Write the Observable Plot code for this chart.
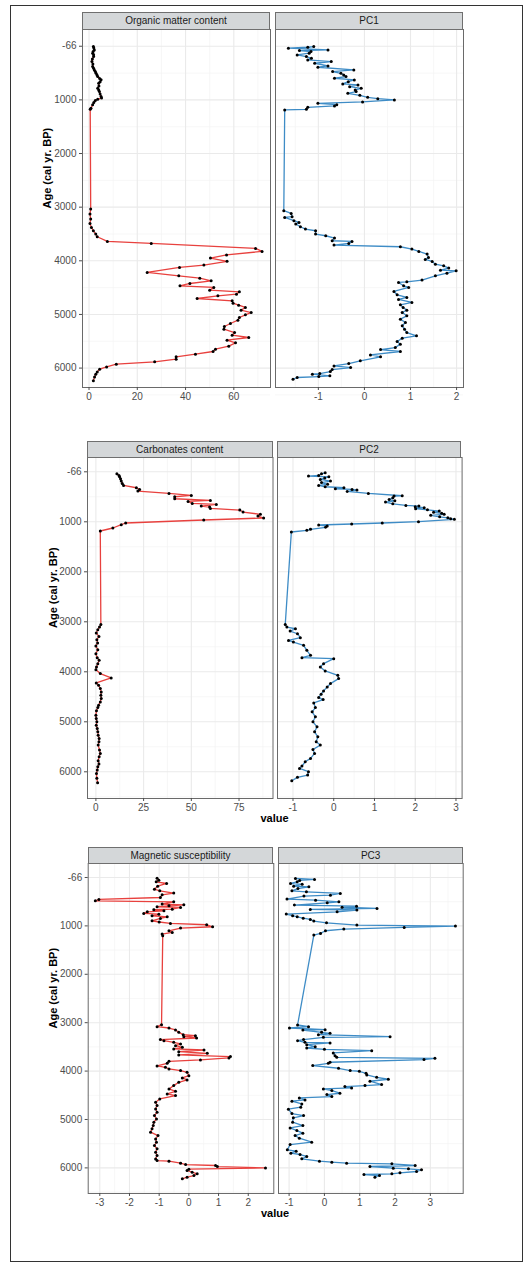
<!DOCTYPE html>
<html><head><meta charset="utf-8">
<script src="https://cdn.jsdelivr.net/npm/d3@7"></script>
<script src="https://cdn.jsdelivr.net/npm/@observablehq/plot@0.6"></script>
<style>
body{margin:0;background:#fff;font-family:"Liberation Sans",Arial,sans-serif;}
#root{position:relative;width:527px;height:1276px;overflow:hidden;}
.box{position:absolute;left:10px;top:5px;width:513px;height:1257px;border:1.5px solid #333;box-sizing:border-box;}
.strip{position:absolute;background:#D4D7D9;border:1px solid #6f6f6f;box-sizing:border-box;font-size:10px;color:#1a1a1a;text-align:center;}
.xlab{position:absolute;font-weight:bold;font-size:11px;line-height:11px;color:#000;transform:translateX(-50%);white-space:nowrap;}
</style></head><body><div id="root"><div class="box"></div></div>
<script>
// ---------------- data: [age (cal yr BP), value] ----------------
const organicMatter = [[6,1.8],[35,2.0],[68,2.2],[100,1.7],[130,1.5],[160,1.9],[193,1.9],[240,1.4],[286,1.2],[330,1.6],[379,1.5],[410,1.9],[441,2.2],[470,2.6],[503,2.9],[535,3.3],[565,3.6],[600,4.4],[627,5.0],[660,4.6],[689,4.0],[740,4.1],[783,3.6],[815,4.0],[845,4.3],[890,4.6],[938,5.0],[965,5.2],[988,3.6],[1012,2.6],[1050,2.0],[1093,1.5],[1155,0.8],[1175,0.5],
[3035,0.7],[3129,0.4],[3222,0.7],[3303,0.4],[3377,1.0],[3440,1.8],[3502,2.8],[3552,3.4],[3639,7.6],[3676,25.8],[3770,69],[3825,71.7],[3890,57],[3950,50.3],[4010,57.2],[4080,47.6],[4124,37.5],[4217,24.1],[4280,37.2],[4323,45.9],[4373,50.6],[4423,41.8],[4466,37.7],[4497,51.7],[4547,50],[4578,62.3],[4622,61.1],[4653,53.4],[4703,44.8],[4746,59.3],[4790,59.7],[4827,62],[4870,64.8],[4920,63],[4964,67.2],[5007,64.8],[5057,62.3],[5107,61.7],[5169,58.6],[5225,56.1],[5275,55.9],[5337,60.3],[5387,59.3],[5430,66.2],[5480,57.2],[5530,60.7],[5592,57.9],[5648,52.4],[5691,51.4],[5741,44.1],[5791,36.1],[5834,36.1],[5884,27.2],[5928,11.3],[5978,7.3],[6021,4.4],[6071,3.4],[6114,2.8],[6164,2.3],[6238,1.8]];

const pc1 = [[6,-1.10],[19,-1.23],[37,-1.65],[68,-0.79],[80,-1.41],[100,-1.16],[130,-1.20],[162,-1.46],[193,-1.26],[225,-1.15],[255,-1.23],[286,-0.72],[317,-1.08],[367,-0.79],[392,-1.01],[442,-0.23],[473,-0.69],[504,-0.51],[535,-0.45],[566,-0.40],[597,-0.65],[628,-0.22],[660,-0.35],[703,-0.47],[722,-0.14],[753,-0.32],[784,-0.07],[815,-0.20],[846,-0.18],[877,-0.36],[915,-0.10],[952,0.07],[977,0.29],[1001,0.65],[1039,-0.04],[1064,-1.01],[1090,-0.60],[1113,-0.65],[1138,-1.23],[1176,-1.26],[1188,-1.73],
[3066,-1.75],[3116,-1.59],[3178,-1.57],[3191,-1.73],[3253,-1.53],[3284,-1.42],[3315,-1.49],[3365,-1.39],[3409,-1.28],[3440,-1.06],[3502,-1.06],[3533,-0.84],[3577,-0.65],[3626,-0.70],[3639,-0.27],[3676,-0.34],[3707,-0.66],[3738,0.78],[3782,1.03],[3825,1.18],[3875,1.36],[3937,1.39],[3975,1.32],[4012,1.47],[4062,1.54],[4093,1.72],[4136,1.83],[4174,1.65],[4186,1.99],[4230,1.79],[4279,1.54],[4360,1.25],[4391,0.92],[4404,0.74],[4466,0.85],[4497,0.96],[4572,0.64],[4634,0.71],[4684,0.92],[4721,0.74],[4777,1.03],[4821,0.78],[4870,0.84],[4920,0.92],[4964,0.82],[5026,0.92],[5088,0.78],[5150,0.89],[5212,0.82],[5275,0.87],[5337,0.92],[5399,1.13],[5443,0.82],[5505,0.71],[5554,0.78],[5617,0.67],[5654,0.35],[5691,0.78],[5754,0.13],[5791,0.35],[5865,-0.09],[5915,-0.34],[5959,-0.66],[5990,-0.30],[6027,-0.70],[6065,-0.74],[6102,-0.97],[6114,-1.13],[6145,-0.75],[6158,-0.99],[6176,-1.46],[6208,-1.55]];

const carbonates = [[40,11.0],[73,12.1],[100,12.4],[140,12.9],[186,13.3],[233,13.8],[273,14.5],[319,21.2],[352,22.9],[386,22.0],[432,38.3],[472,50.0],[499,41.3],[539,41.3],[572,60.0],[592,48.3],[632,50.5],[652,63.1],[685,55.2],[705,59.6],[732,60.0],[765,75.4],[805,77.1],[851,86.2],[885,84.9],[924,87.9],[964,56.5],[1024,15.6],[1057,13.3],[1124,8.9],[1184,2.3],
[3052,2.6],[3105,1.9],[3159,1.0],[3225,0.2],[3292,1.6],[3358,0.5],[3425,0.9],[3485,0.0],[3558,1.0],[3638,0.0],[3717,0.7],[3771,1.7],[3837,1.0],[3904,0.3],[3957,0.0],[4036,2.3],[4123,8.0],[4223,0.2],[4269,1.4],[4336,2.3],[4402,2.8],[4469,2.6],[4535,2.8],[4602,2.3],[4668,1.4],[4715,1.0],[4781,0.3],[4868,0.0],[4934,0.2],[5001,0.5],[5067,0.2],[5134,0.7],[5200,1.0],[5267,1.2],[5333,1.7],[5400,1.6],[5466,1.2],[5566,1.9],[5633,2.3],[5699,1.7],[5779,1.2],[5845,1.6],[5899,1.0],[5965,0.7],[6032,0.3],[6131,0.5],[6218,0.9]];

const pc2 = [[20,-0.21],[40,-0.30],[73,-0.37],[86,-0.62],[100,-0.12],[126,-0.22],[153,-0.33],[186,-0.08],[215,-0.30],[250,-0.15],[273,-0.37],[299,-0.21],[319,0.25],[339,0.04],[352,0.45],[366,0.57],[392,0.33],[432,0.85],[479,1.68],[485,1.48],[520,1.45],[552,1.36],[580,1.50],[605,1.27],[640,1.45],[672,1.77],[685,2.09],[700,2.00],[718,2.22],[738,2.01],[760,2.30],[785,2.59],[810,2.45],[830,2.65],[851,2.71],[871,2.38],[900,2.60],[920,2.80],[938,2.87],[951,2.96],[998,2.08],[1024,1.19],[1044,0.44],[1064,-0.37],[1084,-0.16],[1110,-0.20],[1150,-0.57],[1170,-0.66],[1204,-1.04],
[3052,-1.19],[3106,-1.15],[3139,-0.94],[3185,-1.07],[3239,-0.89],[3318,-0.82],[3372,-1.11],[3405,-0.99],[3471,-0.74],[3571,-0.66],[3671,-0.57],[3717,-0.78],[3737,0.00],[3837,-0.25],[3904,-0.33],[3983,-0.21],[4070,0.10],[4136,0.12],[4236,-0.08],[4303,-0.16],[4382,-0.25],[4449,-0.31],[4515,-0.37],[4555,-0.26],[4622,-0.49],[4715,-0.45],[4801,-0.53],[4901,-0.45],[5001,-0.51],[5101,-0.41],[5200,-0.47],[5300,-0.39],[5400,-0.43],[5466,-0.33],[5553,-0.51],[5633,-0.47],[5732,-0.57],[5799,-0.70],[5885,-0.78],[5932,-0.84],[5998,-0.62],[6065,-0.64],[6111,-0.89],[6178,-1.03]];

const magneticSusceptibility = [[14,-1.07],[55,-1.01],[90,-1.10],[124,-0.75],[180,-1.05],[241,-1.16],[275,-0.98],[323,-0.51],[358,-0.90],[413,-0.96],[454,-3.03],[482,-3.15],[502,-0.51],[550,-0.90],[564,-0.17],[585,-0.67],[605,-1.07],[619,-0.28],[654,-0.56],[667,-1.18],[688,-0.84],[709,-1.40],[743,-1.52],[757,-1.01],[791,-1.24],[812,-0.73],[846,-0.96],[894,-1.24],[920,-1.00],[949,-0.62],[977,0.60],[1018,0.80],[1046,-0.28],[1101,-0.67],[1135,-0.56],[1170,-0.90],[1204,-0.88],
[3041,-0.92],[3082,-1.07],[3110,-0.67],[3151,-0.45],[3199,-0.34],[3247,-0.19],[3268,0.22],[3289,-0.17],[3316,0.26],[3350,-0.96],[3371,-0.84],[3406,-0.51],[3440,-0.28],[3474,-0.45],[3509,-0.22],[3543,-0.51],[3564,0.51],[3598,-0.34],[3633,0.62],[3667,-0.34],[3701,1.40],[3729,1.35],[3770,0.39],[3798,-0.67],[3839,-0.73],[3894,-1.07],[3922,-0.79],[3956,-0.67],[3990,-0.28],[4025,-0.06],[4094,0.00],[4142,-0.22],[4183,-0.06],[4231,-0.34],[4300,-0.51],[4369,-0.67],[4417,-0.45],[4472,-0.73],[4506,-0.45],[4575,-0.98],[4644,-1.12],[4713,-1.07],[4782,-1.12],[4850,-1.07],[4919,-1.16],[4988,-1.09],[5057,-1.18],[5126,-1.20],[5194,-1.24],[5263,-1.29],[5332,-1.04],[5401,-1.12],[5470,-1.09],[5538,-1.16],[5607,-1.07],[5676,-1.12],[5745,-1.07],[5814,-1.12],[5848,-1.07],[5862,-0.67],[5903,-0.28],[5931,-0.11],[5951,0.90],[5972,0.96],[6000,2.58],[6027,0.00],[6054,-0.06],[6089,0.11],[6123,0.28],[6158,0.17],[6192,-0.06],[6226,-0.22]];

const pc3 = [[21,-0.82],[41,-0.28],[60,-0.70],[89,-0.77],[124,-0.96],[138,-0.63],[179,-0.87],[193,-0.44],[230,-0.75],[275,-0.92],[296,-0.51],[330,0.45],[365,0.17],[385,-0.58],[447,-1.06],[468,-0.25],[502,0.41],[523,0.08],[571,-0.85],[592,0.91],[615,0.50],[640,1.49],[660,-0.40],[674,0.92],[709,0.36],[757,-1.08],[790,-0.90],[812,-0.77],[840,-0.60],[867,-0.40],[900,-0.30],[936,0.06],[984,0.92],[1004,3.71],[1032,2.26],[1066,0.55],[1101,0.03],[1156,-0.11],[1190,-0.30],
[3048,-0.76],[3082,-0.45],[3110,-0.99],[3144,0.02],[3151,-0.61],[3199,-0.08],[3220,0.16],[3247,-0.17],[3289,1.86],[3302,-0.03],[3350,-0.59],[3371,-0.76],[3406,-0.55],[3419,0.16],[3454,-0.50],[3495,-0.26],[3523,-0.50],[3550,0.00],[3578,1.34],[3626,0.25],[3681,0.30],[3715,0.35],[3736,3.13],[3763,2.82],[3818,0.16],[3839,0.11],[3887,-0.33],[3942,0.40],[3990,0.73],[4004,0.99],[4045,1.18],[4080,1.20],[4128,1.48],[4169,1.81],[4210,1.29],[4279,1.62],[4300,1.15],[4321,0.58],[4348,0.77],[4369,-0.03],[4403,0.21],[4458,0.44],[4486,0.07],[4527,0.21],[4555,-0.71],[4596,-0.55],[4623,-0.92],[4678,-0.64],[4747,-0.67],[4788,-1.02],[4877,-0.92],[4919,-0.59],[4967,-0.88],[5057,-0.90],[5126,-0.61],[5174,-0.97],[5229,-0.78],[5284,-0.61],[5332,-0.83],[5387,-0.71],[5470,-0.36],[5518,-0.97],[5628,-1.05],[5655,-0.80],[5697,-0.95],[5724,-0.69],[5765,-0.50],[5814,-0.64],[5862,-0.14],[5883,0.21],[5903,0.63],[5917,1.91],[5951,2.57],[5972,1.29],[6006,1.95],[6020,2.38],[6041,2.75],[6075,2.61],[6102,2.14],[6123,1.91],[6137,1.12],[6158,1.56],[6192,1.43]];

// ---------------- labels & ticks ----------------
const panelTitles = ["Organic matter content","PC1","Carbonates content","PC2","Magnetic susceptibility","PC3"];
const yTickValues = [0,1000,2000,3000,4000,5000,6000];
const yTickLabels = ["-66","1000","2000","3000","4000","5000","6000"];
const yMinorTicks = [500,1500,2500,3500,4500,5500,6500];
const yLabel = "Age (cal yr. BP)";
const xLabel = "value";
const xTicksOM = [0,20,40,60], xMinorOM = [10,30,50,70];
const xTicksPC1 = [-1,0,1,2], xMinorPC1 = [-1.5,-0.5,0.5,1.5];
const xTicksCarb = [0,25,50,75], xMinorCarb = [12.5,37.5,62.5,87.5];
const xTicksPC2 = [-1,0,1,2,3], xMinorPC2 = [-0.5,0.5,1.5,2.5];
const xTicksMS = [-3,-2,-1,0,1,2], xMinorMS = [-2.5,-1.5,-0.5,0.5,1.5,2.5];
const xTicksPC3 = [-1,0,1,2,3], xMinorPC3 = [-0.5,0.5,1.5,2.5,3.5];

const RED = "#E8413E", BLUE = "#3E8CC6";
const root = document.getElementById("root");

function panel(o) {
  const mt = 2, mr = 2, mb = 22;
  const ml = o.yAxis ? o.left : 2;
  const w = o.right - o.left, h = o.bottom - o.top;
  const rows = o.data.map(([age, value]) => ({age, value}));
  const marks = [
    Plot.gridX({ticks: o.xMinor, stroke: "#F4F4F4", strokeOpacity: 1, strokeWidth: 0.7}),
    Plot.gridY({ticks: yMinorTicks, stroke: "#F4F4F4", strokeOpacity: 1, strokeWidth: 0.7}),
    Plot.gridX({ticks: o.xTicks, stroke: "#EAEAEA", strokeOpacity: 1, strokeWidth: 1.1}),
    Plot.gridY({ticks: yTickValues, stroke: "#EAEAEA", strokeOpacity: 1, strokeWidth: 1.1}),
    Plot.line(rows, {x: "value", y: "age", stroke: o.color, strokeWidth: 1.3}),
    Plot.dot(rows, {x: "value", y: "age", r: 1.5, fill: "#000", stroke: "none"}),
    Plot.frame({stroke: "#6a6a6a", strokeWidth: 1}),
    Plot.axisX({ticks: o.xTicks, tickSize: 3, tickPadding: 2, label: null, tickFormat: d => String(d), fontSize: 10})
  ];
  if (o.yAxis) {
    marks.push(Plot.axisY({ticks: yTickValues, tickSize: 3, tickPadding: 3, label: null, fontSize: 10,
      tickFormat: d => yTickLabels[yTickValues.indexOf(d)]}));
    marks.push(Plot.text([yLabel], {frameAnchor: "left", rotate: -90, dx: o.labelX - o.left, fontWeight: "bold", fontSize: 11, fill: "#000"}));
  }
  const chart = Plot.plot({
    width: ml + w + mr, height: mt + h + mb,
    marginLeft: ml, marginRight: mr, marginTop: mt, marginBottom: mb,
    x: {domain: o.xDomain},
    y: {domain: o.yDomain, reverse: true, axis: o.yAxis ? undefined : null},
    style: {fontFamily: "'Liberation Sans', Arial, sans-serif", fontSize: "10px", color: "#4d4d4d", background: "transparent", overflow: "visible"},
    marks
  });
  chart.style.position = "absolute";
  chart.style.left = (o.left - ml) + "px";
  chart.style.top = (o.top - mt) + "px";
  root.appendChild(chart);
  const s = document.createElement("div");
  s.className = "strip";
  s.style.left = o.left + "px"; s.style.width = w + "px";
  s.style.top = o.stripTop + "px"; s.style.height = (o.top - o.stripTop + 1) + "px";
  s.style.lineHeight = (o.top - o.stripTop - 1) + "px";
  s.textContent = o.title;
  root.appendChild(s);
}

// Figure 1
panel({data: organicMatter, color: RED, title: panelTitles[0], xDomain: [-2.7, 75.2], xTicks: xTicksOM, xMinor: xMinorOM,
  yDomain: [-312, 6362], left: 82, right: 270, top: 29, bottom: 387, stripTop: 12, yAxis: true, labelX: 47});
panel({data: pc1, color: BLUE, title: panelTitles[1], xDomain: [-1.93, 2.15], xTicks: xTicksPC1, xMinor: xMinorPC1,
  yDomain: [-312, 6362], left: 275, right: 463, top: 29, bottom: 387, stripTop: 12});
// Figure 2
panel({data: carbonates, color: RED, title: panelTitles[2], xDomain: [-4.4, 92.8], xTicks: xTicksCarb, xMinor: xMinorCarb,
  yDomain: [-286, 6534], left: 87, right: 272.5, top: 457, bottom: 798, stripTop: 441, yAxis: true, labelX: 53});
panel({data: pc2, color: BLUE, title: panelTitles[3], xDomain: [-1.38, 3.15], xTicks: xTicksPC2, xMinor: xMinorPC2,
  yDomain: [-286, 6534], left: 276.7, right: 461.3, top: 457, bottom: 798, stripTop: 441});
// Figure 3
panel({data: magneticSusceptibility, color: RED, title: panelTitles[4], xDomain: [-3.39, 2.86], xTicks: xTicksMS, xMinor: xMinorMS,
  yDomain: [-289, 6529], left: 87.7, right: 273.3, top: 863, bottom: 1193, stripTop: 847, yAxis: true, labelX: 53});
panel({data: pc3, color: BLUE, title: panelTitles[5], xDomain: [-1.30, 3.93], xTicks: xTicksPC3, xMinor: xMinorPC3,
  yDomain: [-289, 6529], left: 278.3, right: 463, top: 863, bottom: 1193, stripTop: 847});

for (const [x, y] of [[274.5, 813], [275, 1208]]) {
  const d = document.createElement("div");
  d.className = "xlab"; d.textContent = xLabel;
  d.style.left = x + "px"; d.style.top = y + "px";
  root.appendChild(d);
}
</script></body></html>
